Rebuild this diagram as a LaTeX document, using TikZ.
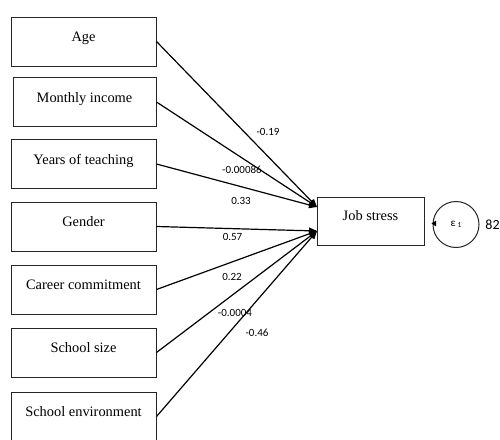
\documentclass[tikz,border=0pt]{standalone}
\usepackage{fontspec}
\setmainfont{Liberation Serif}
\newfontfamily\labfont{Carlito}
\usetikzlibrary{arrows.meta}
\begin{document}
\begin{tikzpicture}[x=1pt,y=-1pt,
  var/.style={draw=black!85, line width=1pt, minimum width=145pt, minimum height=49pt,
    inner sep=0pt, text height=10pt, text depth=10pt, font=\fontsize{14.4}{16}\selectfont},
  conn/.style={line width=1.2pt, draw=black, -{Triangle[length=8pt,width=6.5pt]}},
  coef/.style={font=\labfont\fontsize{11}{12}\selectfont, inner sep=0pt}]
\useasboundingbox (0,0) rectangle (500,439);
\node[var] (age) at (83.5,41.5) {Age};
\node[var, minimum width=143pt] (inc) at (84.5,102) {Monthly income};
\node[var] (yrs) at (83.5,164) {Years of teaching};
\node[var] (gen) at (83.5,226.5) {Gender};
\node[var] (car) at (83.5,289.5) {Career commitment};
\node[var] (siz) at (83.5,352.5) {School size};
\node[var] (env) at (83.5,416.5) {School environment};
\node[var, minimum width=107pt, minimum height=48pt, text height=10pt, text depth=12pt] (js) at (370.5,221) {Job stress};
\node[draw=black!85, circle, minimum size=46pt, inner sep=0pt, line width=1pt,
  font=\labfont\fontsize{11}{11}\selectfont] (e) at (456,224.5) {ε\,\raisebox{-1pt}{\fontsize{7.5}{7.5}\selectfont 1}};
\node[font=\labfont\fontsize{14}{14}\selectfont, inner sep=0pt] (v) at (492.5,224.5) {82};
\coordinate (jsup) at (317,207);
\coordinate (jslo) at (317,231);
\draw[conn] (age.east) -- (jsup);
\draw[conn] (inc.east) -- (jsup);
\draw[conn] (yrs.east) -- (jsup);
\draw[conn] (gen.east) -- (jslo);
\draw[conn] (car.east) -- (jslo);
\draw[conn] (siz.east) -- (jslo);
\draw[conn] (env.east) -- (jslo);
\draw[line width=1pt, -{Triangle[length=4.5pt,width=5.5pt]}, shorten >=7pt] ([yshift=1pt]e.west) -- ([yshift=1pt]e.west -| js.east);
\node[coef] (c1) at (268,132) {-0.19};
\node[coef] (c2) at (242,170) {-0.00086};
\node[coef] (c3) at (241,201) {0.33};
\node[coef] (c4) at (232.5,237) {0.57};
\node[coef] (c5) at (232,277) {0.22};
\node[coef] (c6) at (235,313) {-0.0004};
\node[coef] (c7) at (257,333) {-0.46};
\end{tikzpicture}
\end{document}
